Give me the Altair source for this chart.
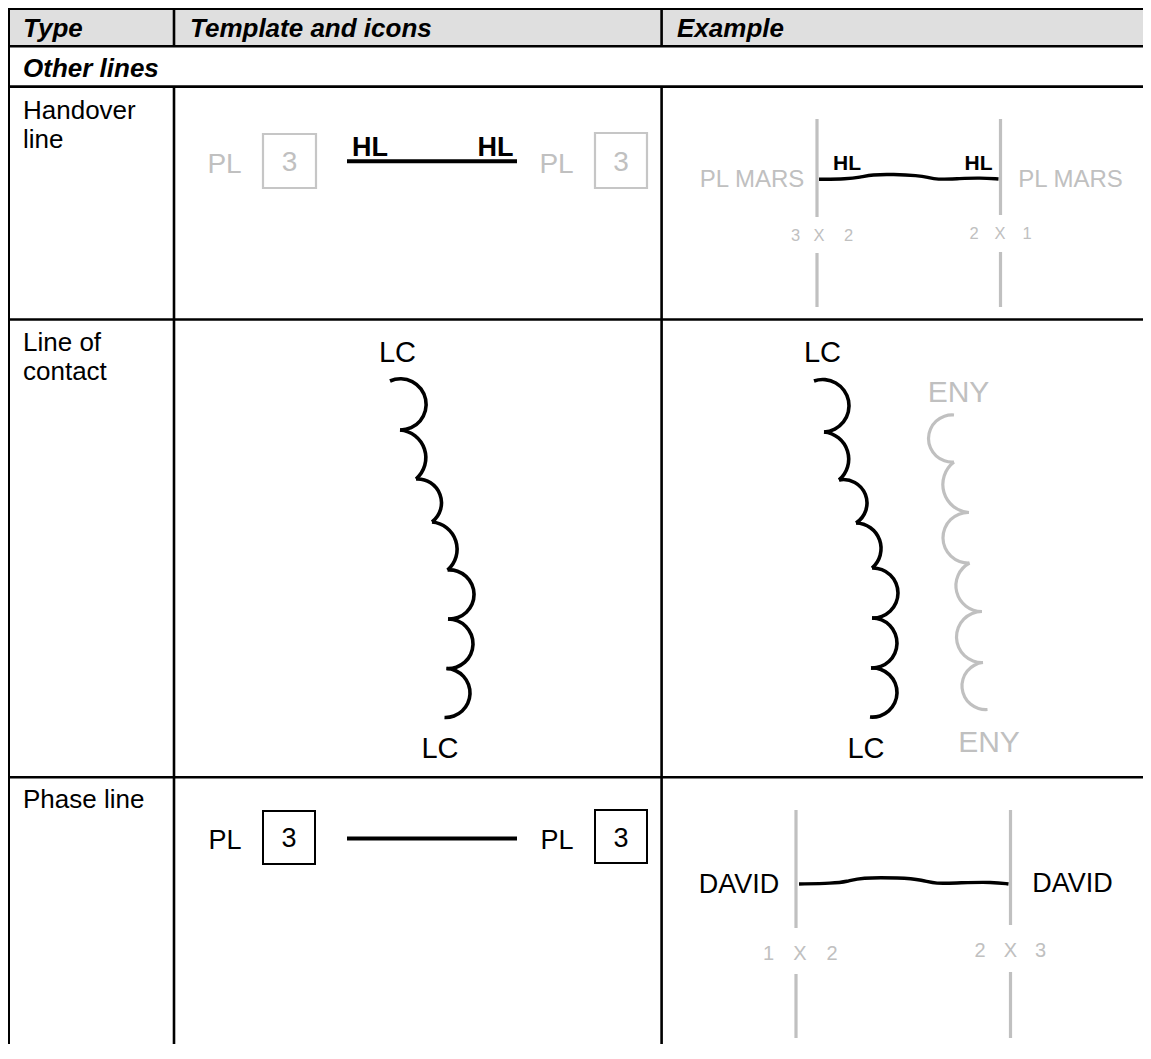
import math
import altair as alt
import pandas as pd

FONT = "Liberation Sans"
BLACK = "#000000"
GRAY = "#c0c0c0"
HEADER_FILL = "#dfdfdf"

W, H = 1135, 1036
X_DOMAIN = [8, 8 + W]
Y_DOMAIN = [8 + H, 8]
xs = alt.Scale(domain=X_DOMAIN)
ys = alt.Scale(domain=Y_DOMAIN)

# ---------------- table frame (pixel positions) ----------------
row_lines_y = [8.7, 46.3, 86.6, 319.5, 777.2]
table_left, table_right, table_top, table_bottom = 8.7, 1151, 7.0, 1059
col_lines_x = [174.0, 661.6]
header_bottom, section_bottom = 46.3, 86.6

# ---------------- first column and header text ----------------
header_labels = ["Type", "Template and icons", "Example"]
header_x = [23, 190, 677]
header_baseline = 36.5
section_label = "Other lines"
section_baseline = 77
type_labels = ["Handover", "line", "Line of", "contact", "Phase line"]
type_baselines = [118.5, 147.5, 351, 380, 808.3]
type_x = 23

# ---------------- Handover line: template ----------------
hl_tpl_pl_x = [224.5, 556.5]
hl_tpl_pl_base = 173
hl_tpl_num_x = [289.5, 621]
hl_tpl_num_base = 171
hl_tpl_box_x = [(263, 316), (595, 647)]
hl_tpl_box_y = [(134, 188), (133, 188)]
hl_tpl_hl_x = [370, 495.5]
hl_tpl_hl_base = 156
hl_tpl_bar = (347, 517, 161.3)

# ---------------- Handover line: example ----------------
hl_ex_mars_x = [752, 1070.5]
hl_ex_mars_base = 186.5
hl_ex_hl_x = [847, 978.5]
hl_ex_hl_base = 169.5
hl_ex_ticks_x = [817, 1000.5]
hl_ex_ticks_y = [[(119, 217), (253, 307)], [(119, 215), (252, 307)]]
hl_ex_cross_left = (["3", "X", "2"], [795.5, 819, 848.5], 240.7)
hl_ex_cross_right = (["2", "X", "1"], [974, 1000, 1027], 239.3)
hl_ex_wiggle_x = [819, 847, 860, 872, 893, 918, 928, 936, 960, 980, 998.5]
hl_ex_wiggle_y = [179.3, 179.0, 177.3, 174.5, 174.3, 175.5, 177.3, 179.7, 178.5, 177.8, 179.0]

# ---------------- Line of contact ----------------
lc_labels_x = [397.5, 440, 822.5, 866]
lc_labels_base = [362, 758, 362, 758]
eny_labels_x = [958.5, 989]
eny_labels_base = [401.7, 751.7]
lc_tpl_cusps = [(390, 381), (400, 430), (416, 479), (432, 522), (447.5, 570),
                (448, 619), (446.5, 668.5), (444.5, 717.5)]
lc_tpl_bumps = [(426, 407), (425.5, 453.5), (441.5, 503), (457, 547),
                (474, 593), (473, 643), (470, 693)]
lc_ex_cusps = [(814, 381), (824, 432), (839, 480), (856, 523), (872, 568),
               (872, 618), (871, 668), (870, 717)]
lc_ex_bumps = [(849, 407), (848, 453), (867, 503), (881, 547),
               (898, 593), (897, 643), (897, 693)]
eny_cusps = [(954, 415), (954, 462), (969, 512.5), (969.5, 563), (982, 611.5),
             (983, 662.5), (987.5, 709.5)]
eny_bumps = [(928.5, 438), (943, 487.5), (943, 538.5), (956, 587.5),
             (956.5, 637.5), (962, 685.5)]

# ---------------- Phase line: template ----------------
pl_tpl_pl_x = [225, 557]
pl_tpl_pl_base = 849
pl_tpl_num_x = [289, 621]
pl_tpl_num_base = 847
pl_tpl_box_x = [(263, 315), (595, 647)]
pl_tpl_box_y = [(811, 864), (810, 863)]
pl_tpl_bar = (347, 517, 838.5)

# ---------------- Phase line: example ----------------
pl_ex_david_x = [739, 1072.5]
pl_ex_david_base = [893, 892]
pl_ex_ticks_x = [796, 1010.5]
pl_ex_ticks_y = [[(810, 928), (974, 1038)], [(810, 925), (972, 1038)]]
pl_ex_cross_left = (["1", "X", "2"], [768.5, 800, 832], 960)
pl_ex_cross_right = (["2", "X", "3"], [980, 1010.5, 1040.5], 956.5)
pl_ex_wiggle_x = [799, 833, 847, 860, 900, 923, 935, 960, 993, 1008.5]
pl_ex_wiggle_y = [884, 883.3, 881.7, 877.5, 877.7, 880, 884, 882.7, 882, 884]

# ======================= build tables for the marks =======================
rules = []
def add_rule(x, y, x2, y2, color, sw):
    rules.append(dict(x=x, y=y, x2=x2, y2=y2, color=color, sw=sw))

for yv in row_lines_y:
    add_rule(table_top, yv, table_right, yv, BLACK, 2.6)
add_rule(table_left, table_top, table_left, table_bottom, BLACK, 2.6)
for xv in col_lines_x:
    add_rule(xv, table_top, xv, header_bottom, BLACK, 2.6)
    add_rule(xv, section_bottom, xv, table_bottom, BLACK, 2.6)
for bar in (hl_tpl_bar, pl_tpl_bar):
    add_rule(bar[0], bar[2], bar[1], bar[2], BLACK, 4)
for xv, segs in zip(hl_ex_ticks_x, hl_ex_ticks_y):
    for a, b in segs:
        add_rule(xv, a, xv, b, GRAY, 3.2)
for xv, segs in zip(pl_ex_ticks_x, pl_ex_ticks_y):
    for a, b in segs:
        add_rule(xv, a, xv, b, GRAY, 3.2)
rules_df = pd.DataFrame(rules)

header_df = pd.DataFrame([dict(x=table_top, x2=table_right, y=table_top, y2=header_bottom)])

boxes = []
for (a, b), (c, d) in zip(hl_tpl_box_x, hl_tpl_box_y):
    boxes.append(dict(x=a, x2=b, y=c, y2=d, color="#c6c6c6", sw=2.2))
for (a, b), (c, d) in zip(pl_tpl_box_x, pl_tpl_box_y):
    boxes.append(dict(x=a, x2=b, y=c, y2=d, color=BLACK, sw=2.0))
boxes_df = pd.DataFrame(boxes)

# texts
bi_rows = [dict(x=xv, y=header_baseline, label=t, size=26, color=BLACK)
           for t, xv in zip(header_labels, header_x)]
bi_rows.append(dict(x=type_x, y=section_baseline, label=section_label, size=26, color=BLACK))
left_rows = [dict(x=type_x, y=b, label=t, size=26, color=BLACK)
             for t, b in zip(type_labels, type_baselines)]

center_rows = []
def ct(x, y, label, size, color):
    center_rows.append(dict(x=x, y=y, label=label, size=size, color=color))

for xv in hl_tpl_pl_x:
    ct(xv, hl_tpl_pl_base, "PL", 28, GRAY)
for xv in hl_tpl_num_x:
    ct(xv, hl_tpl_num_base, "3", 28, GRAY)
for xv in hl_ex_mars_x:
    ct(xv, hl_ex_mars_base, "PL MARS", 24, GRAY)
for labels, xs_, base in (hl_ex_cross_left, hl_ex_cross_right):
    for t, xv in zip(labels, xs_):
        ct(xv, base, t, 16.5, GRAY)
for xv, b, t in zip(lc_labels_x, lc_labels_base, ["LC"] * 4):
    ct(xv, b, t, 29, BLACK)
for xv, b in zip(eny_labels_x, eny_labels_base):
    ct(xv, b, "ENY", 30, GRAY)
for xv in pl_tpl_pl_x:
    ct(xv, pl_tpl_pl_base, "PL", 27, BLACK)
for xv in pl_tpl_num_x:
    ct(xv, pl_tpl_num_base, "3", 27, BLACK)
for xv, b in zip(pl_ex_david_x, pl_ex_david_base):
    ct(xv, b, "DAVID", 27, BLACK)
for labels, xs_, base in (pl_ex_cross_left, pl_ex_cross_right):
    for t, xv in zip(labels, xs_):
        ct(xv, base, t, 20, GRAY)

bold_rows = [dict(x=xv, y=hl_tpl_hl_base, label="HL", size=27, color=BLACK) for xv in hl_tpl_hl_x]
bold_rows += [dict(x=xv, y=hl_ex_hl_base, label="HL", size=21, color=BLACK) for xv in hl_ex_hl_x]

# wiggly lines
wig = []
for xv, yv in zip(hl_ex_wiggle_x, hl_ex_wiggle_y):
    wig.append(dict(x=xv, y=yv, sid="hl"))
for xv, yv in zip(pl_ex_wiggle_x, pl_ex_wiggle_y):
    wig.append(dict(x=xv, y=yv, sid="pl"))
wig_df = pd.DataFrame(wig)

# scallops: each one is the circular arc through its two cusps and its bulge point
def circle3(a, b, c):
    ax, ay = a; bx, by = b; cx, cy = c
    d = 2 * (ax * (by - cy) + bx * (cy - ay) + cx * (ay - by))
    ux = ((ax*ax + ay*ay) * (by - cy) + (bx*bx + by*by) * (cy - ay) + (cx*cx + cy*cy) * (ay - by)) / d
    uy = ((ax*ax + ay*ay) * (cx - bx) + (bx*bx + by*by) * (ax - cx) + (cx*cx + cy*cy) * (bx - ax)) / d
    return ux, uy, math.hypot(ax - ux, ay - uy)

TWO_PI = 2 * math.pi
def ang(p, cx, cy):
    return math.atan2(p[0] - cx, cy - p[1]) % TWO_PI

arcs = []
def add_scallops(cusps, bumps, color, sw):
    for i, b in enumerate(bumps):
        a, c = cusps[i], cusps[i + 1]
        cx, cy, r = circle3(a, b, c)
        ta, tb, tc = ang(a, cx, cy), ang(b, cx, cy), ang(c, cx, cy)
        db, dc = (tb - ta) % TWO_PI, (tc - ta) % TWO_PI
        if db < dc:
            t1, t2 = ta, ta + dc
        else:
            t1, t2 = tc, tc + (ta - tc) % TWO_PI
        arcs.append(dict(x=cx, y=cy, ro=r + sw / 2, ri=r - sw / 2, t1=t1, t2=t2, color=color))

add_scallops(lc_tpl_cusps, lc_tpl_bumps, BLACK, 3.6)
add_scallops(lc_ex_cusps, lc_ex_bumps, BLACK, 3.6)
add_scallops(eny_cusps, eny_bumps, GRAY, 3.2)
arcs_df = pd.DataFrame(arcs)

# ======================= marks =======================
X = lambda f="x": alt.X(f + ":Q", scale=xs, axis=None)
Y = lambda f="y": alt.Y(f + ":Q", scale=ys, axis=None)

header_bg = alt.Chart(header_df).mark_rect(color=HEADER_FILL, clip=True).encode(
    x=X(), x2="x2:Q", y=Y(), y2="y2:Q")

rule_layer = alt.Chart(rules_df).mark_rule(clip=True).encode(
    x=X(), x2="x2:Q", y=Y(), y2="y2:Q",
    color=alt.Color("color:N", scale=None),
    strokeWidth=alt.StrokeWidth("sw:Q", scale=None))

box_layer = alt.Chart(boxes_df).mark_rect(filled=False).encode(
    x=X(), x2="x2:Q", y=Y(), y2="y2:Q",
    color=alt.Color("color:N", scale=None),
    strokeWidth=alt.StrokeWidth("sw:Q", scale=None))

wiggle_layer = alt.Chart(wig_df).mark_line(color=BLACK, strokeWidth=3.4, interpolate="basis").encode(
    x=X(), y=Y(), detail="sid:N", order="x:Q")

arc_layer = alt.Chart(arcs_df).mark_arc().encode(
    x=X(), y=Y(),
    theta=alt.Theta("t1:Q", scale=None, stack=False), theta2="t2:Q",
    radius=alt.Radius("ro:Q", scale=None, stack=False), radius2="ri:Q",
    color=alt.Color("color:N", scale=None))

def text_layer(rows, align, weight="normal", style="normal"):
    return alt.Chart(pd.DataFrame(rows)).mark_text(
        align=align, baseline="alphabetic", font=FONT, fontWeight=weight, fontStyle=style
    ).encode(
        x=X(), y=Y(), text="label:N",
        size=alt.Size("size:Q", scale=None),
        color=alt.Color("color:N", scale=None))

chart = alt.layer(
    header_bg,
    rule_layer,
    box_layer,
    wiggle_layer,
    arc_layer,
    text_layer(bi_rows, "left", "bold", "italic"),
    text_layer(left_rows, "left"),
    text_layer(center_rows, "center"),
    text_layer(bold_rows, "center", "bold"),
).properties(
    width=W, height=H, padding=0, autosize="none", background="white"
).configure_view(stroke=None)

chart.save("out.html", embed_options={"renderer": "svg", "actions": False})
